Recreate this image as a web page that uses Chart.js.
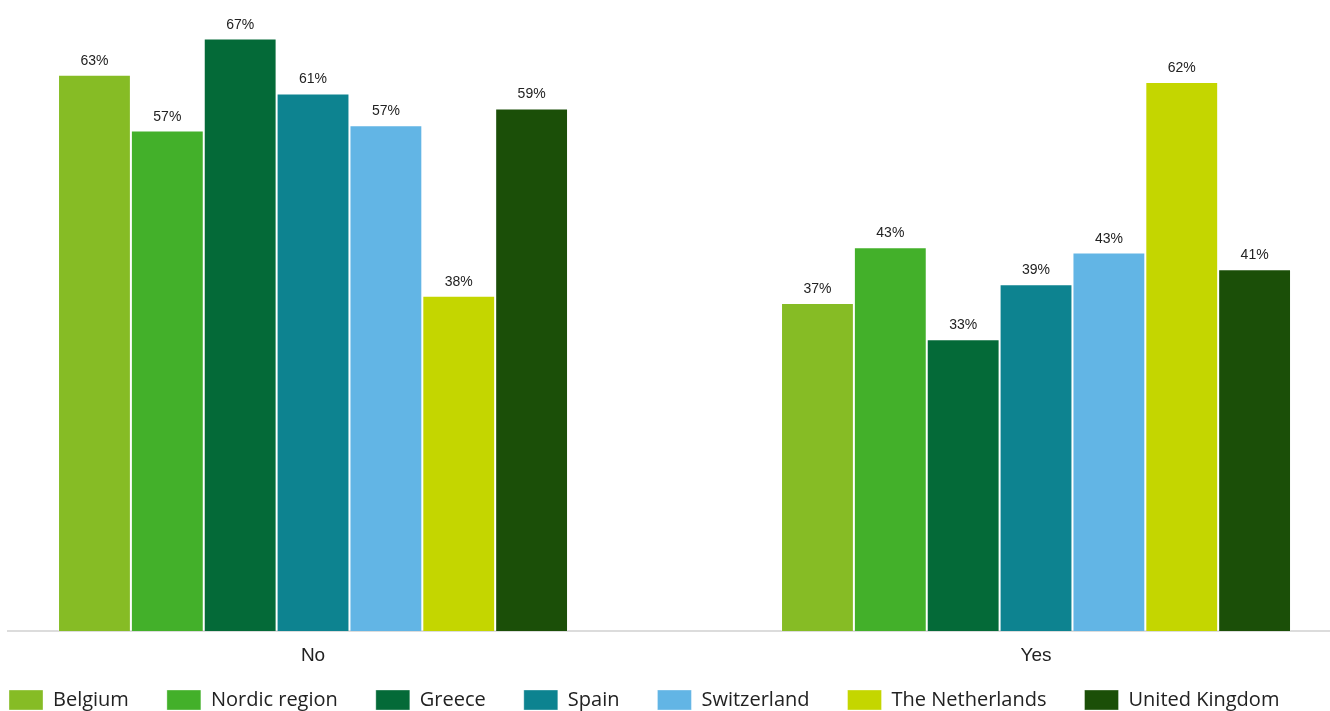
<!DOCTYPE html>
<html>
<head>
<meta charset="utf-8">
<title>No / Yes by country</title>
<script src="https://cdn.jsdelivr.net/npm/chart.js@4/dist/chart.umd.min.js"></script>
<style>
    html, body { margin: 0; padding: 0; background: #fff; overflow: hidden; }
    .chart-wrap { position: absolute; left: -29px; top: 0; width: 1359px; height: 735px; }
</style>
</head>
<body>
<div class="chart-wrap"><canvas id="barChart"></canvas></div>
<script>
// Chart data
const categories = ['No', 'Yes'];
const countries = ['Belgium', 'Nordic region', 'Greece', 'Spain', 'Switzerland', 'The Netherlands', 'United Kingdom'];
const belgium = [62.9, 37.1];
const nordicRegion = [56.6, 43.4];
const greece = [67.0, 33.0];
const spain = [60.8, 39.2];
const switzerland = [57.2, 42.8];
const netherlands = [37.9, 62.1];
const unitedKingdom = [59.1, 40.9];
const colors = ['#86bc25', '#43b02a', '#046a38', '#0d8390', '#62b5e5', '#c4d600', '#1b4f08'];

const seriesValues = [belgium, nordicRegion, greece, spain, switzerland, netherlands, unitedKingdom];

const datasets = countries.map((name, i) => ({
    label: name,
    data: seriesValues[i].map((v, j) => ({ x: j, y: v })),
    backgroundColor: colors[i],
    borderColor: 'rgba(255,255,255,0.35)',
    borderWidth: 1,
    categoryPercentage: 0.7054,
    barPercentage: 1
}));

// Value labels above each bar
const valueLabels = {
    id: 'valueLabels',
    afterDatasetsDraw(chart) {
        const ctx = chart.ctx;
        ctx.save();
        ctx.font = '14px "Liberation Sans", Arial, sans-serif';
        ctx.fillStyle = '#222';
        ctx.textAlign = 'center';
        ctx.textBaseline = 'alphabetic';
        chart.data.datasets.forEach((ds, i) => {
            chart.getDatasetMeta(i).data.forEach((bar, j) => {
                ctx.fillText(Math.round(ds.data[j].y) + '%', bar.x, bar.y - 10);
            });
        });
        ctx.restore();
    }
};

// Pull the legend up so its row sits just under the category labels
const legendNudge = {
    id: 'legendNudge',
    afterLayout(chart) {
        const lg = chart.legend;
        const shift = 15;
        lg.top -= shift;
        lg.bottom -= shift;
    }
};

const ctx = document.getElementById('barChart').getContext('2d');

new Chart(ctx, {
    type: 'bar',
    data: { datasets: datasets },
    options: {
        responsive: true,
        maintainAspectRatio: false,
        animation: false,
        layout: { padding: 0 },
        scales: {
            x: {
                type: 'linear',
                offset: false,
                min: -0.4219,
                max: 1.4066,
                grid: { display: false, drawTicks: false },
                border: { display: true, color: '#dcdcdc', width: 2 },
                afterBuildTicks: (scale) => {
                    scale.ticks = categories.map((c, i) => ({ value: i }));
                },
                afterFit: (scale) => { scale.height = 36; },
                ticks: {
                    padding: 13,
                    color: '#222',
                    font: { family: '"Liberation Sans", Arial, sans-serif', size: 19 },
                    callback: (v) => categories[v]
                }
            },
            y: {
                min: 0,
                max: 71.36,
                grid: { display: false },
                border: { display: false },
                ticks: { display: false },
                afterFit: (scale) => { scale.width = 37; }
            }
        },
        plugins: {
            tooltip: { enabled: false },
            legend: {
                position: 'bottom',
                align: 'start',
                labels: {
                    boxWidth: 34,
                    boxHeight: 20,
                    padding: 38,
                    color: '#222',
                    font: { family: '"Open Sans", sans-serif', size: 20 }
                }
            }
        }
    },
    plugins: [valueLabels, legendNudge]
});
</script>
</body>
</html>
